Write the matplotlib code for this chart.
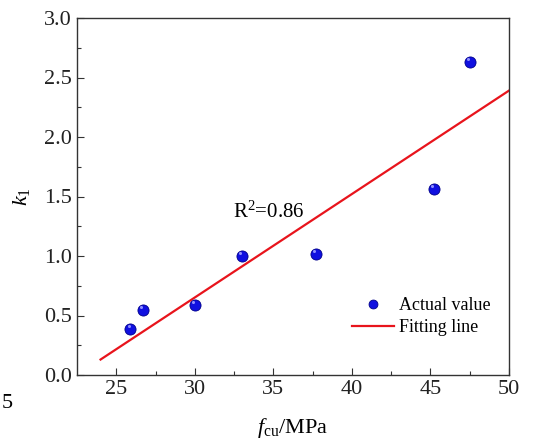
import numpy as np
import matplotlib.pyplot as plt

plt.rcParams['font.family'] = ['Liberation Serif', 'DejaVu Serif']
plt.rcParams['mathtext.fontset'] = 'custom'
plt.rcParams['mathtext.rm'] = 'Liberation Serif'
plt.rcParams['mathtext.it'] = 'Liberation Serif:italic'

# data
fcu = [25.9, 26.7, 30.0, 33.0, 37.7, 45.2, 47.5]
k1 = [0.39, 0.55, 0.59, 1.00, 1.02, 1.56, 2.63]
fit_x = [24.0, 50.0]
fit_y = [0.13, 2.39]

fig = plt.figure(figsize=(5.36, 4.41), dpi=100)
ax = fig.add_axes([77/536, 1 - 375/441, (509-77)/536, (375-18)/441])

ln, = ax.plot(fit_x, fit_y, color='#e8141c', lw=1.6, label='Fitting line', zorder=2)
pts, = ax.plot(fcu, k1, 'o', ms=8, color='#1010e0', mec='#00008a', mew=0.6,
               label='Actual value', zorder=3)
# small highlight to mimic the shaded spheres
ax.plot(np.array(fcu) - 0.12, np.array(k1) + 0.025, 'o', ms=2.2, color='#9090ff',
        mew=0, zorder=4)

ax.set_xlim(22.5, 50)
ax.set_ylim(0, 3.0)
ax.set_xticks([25, 30, 35, 40, 45, 50])
ax.set_xticks([27.5, 32.5, 37.5, 42.5, 47.5], minor=True)
ax.set_yticks(np.arange(0, 3.01, 0.5))
ax.set_yticks(np.arange(0.25, 3.0, 0.5), minor=True)
ax.yaxis.set_major_formatter(plt.FormatStrFormatter('%.1f'))
ax.tick_params(which='both', direction='in', labelsize=16, color='#333333',
               labelcolor='#222222')
ax.tick_params(which='major', length=5, width=0.8)
ax.tick_params(which='minor', length=3, width=0.8)
for s in ax.spines.values():
    s.set_color('#333333')
    s.set_linewidth(1.0)

ax.set_xlabel(r'$\mathit{f}_{\rm cu}$/MPa', fontsize=16, labelpad=12)
ax.set_ylabel(r'$\mathit{k}_{\rm 1}$', fontsize=16, labelpad=9)

ax.text(32.4, 1.32, r'R$^{\rm 2}$=0.86', fontsize=15)

ax.legend([pts, ln], ['Actual value', 'Fitting line'], loc='upper left',
          bbox_to_anchor=(352/536, 1 - 297/441), bbox_transform=fig.transFigure,
          frameon=False, fontsize=13, handlelength=2.3, handletextpad=0.3,
          labelspacing=0.28, borderpad=0, borderaxespad=0, markerscale=0.8)

fig.text(2/536, 1 - 408/441, '5', fontsize=16)

fig.savefig('out.png', dpi=100)
